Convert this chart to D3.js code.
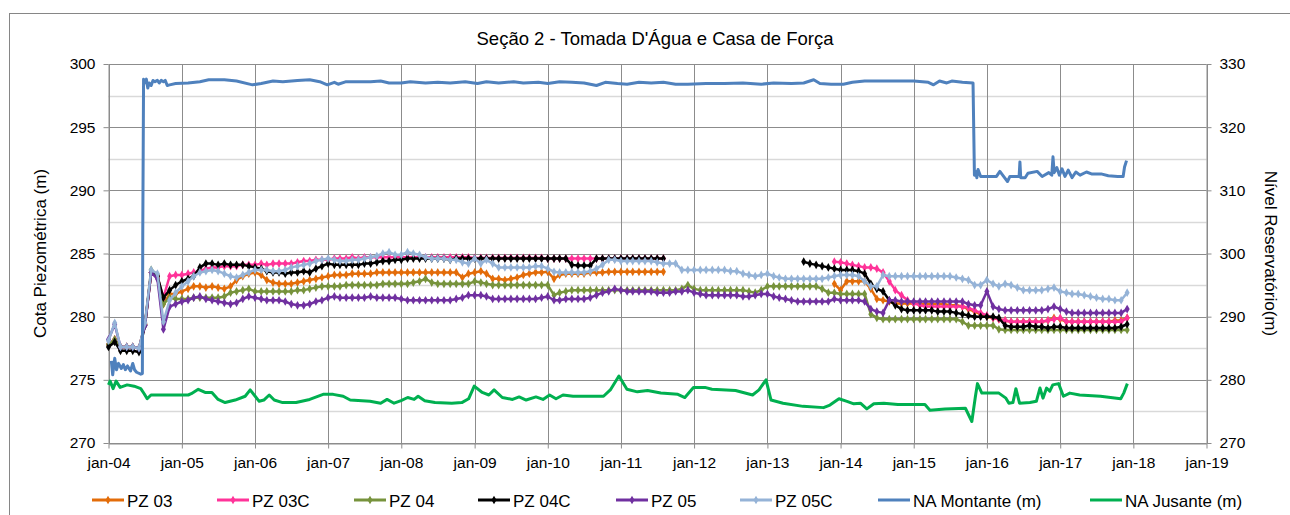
<!DOCTYPE html>
<html>
<head>
<meta charset="utf-8">
<script src="https://cdn.jsdelivr.net/npm/d3@7"></script>
<style>
    body { margin: 0; background: #fff; }
    svg { display: block; font-family: 'Liberation Sans', Arial, sans-serif; }
</style>
</head>
<body>
<svg id="chart" width="1290" height="515"></svg>
<script>
'use strict';

const _ = null;

// monthly readings, Jan 2004 .. Dec 2017 (one row per year)
const firstMonth = new Date(2004, 0, 1);

const pz03 = [
    277.8, 278.2, 277.6, 277.6, 277.6, 277.5, 279.4, 283.5, 283.1, 281.0, 281.8, 281.8,
    282.0, 282.2, 282.4, 282.4, 282.3, 282.4, 282.3, 282.2, 282.4, 282.9, 283.2, 283.4,
    283.5, 283.3, 282.9, 282.7, 282.6, 282.6, 282.6, 282.7, 282.8, 282.9, 283.0, 283.1,
    283.2, 283.3, 283.3, 283.3, 283.4, 283.4, 283.4, 283.4, 283.5, 283.5, 283.5, 283.5,
    283.5, 283.5, 283.5, 283.5, 283.5, 283.5, 283.5, 283.5, 283.5, 283.5, 283.1, 283.4,
    283.5, 283.6, 283.4, 283.0, 283.0, 282.9, 283.0, 283.1, 283.3, 283.4, 283.5, 283.5,
    283.55, 283.0, 283.3, 283.4, 283.4, 283.4, 283.4, 283.5, 283.5, 283.5, 283.55, 283.55,
    283.55, 283.55, 283.55, 283.55, 283.55, 283.55, 283.55, 283.55, _, _, _, _,
    _, _, _, _, _, _, _, _, _, _, _, _,
    _, _, _, _, _, _, _, _, _, _, _, 282.6,
    282.1, 282.8, 282.8, 282.8, 282.8, 282.2, 281.4, 281.3, 281.2, 281.05, 281.05, 281.05,
    281.05, 281.0, 281.0, 281.0, 281.0, 281.0, 280.9, 280.9, 280.8, 280.6, 280.4, 280.2,
    280.0, 279.9, 279.8, 279.7, 279.6, 279.6, 279.6, 279.6, 279.6, 279.6, 279.7, 279.9,
    279.8, 279.6, 279.6, 279.6, 279.6, 279.6, 279.6, 279.6, 279.6, 279.7, 279.7, 279.9
];

const pz03c = [
    277.8, 278.2, 277.6, 277.6, 277.6, 277.5, 279.4, 283.5, 283.2, 281.5, 283.2, 283.3,
    283.3, 283.4, 283.5, 283.6, 283.8, 283.9, 283.9, 284.0, 284.0, 284.0, 284.1, 284.1,
    284.1, 284.2, 284.1, 284.2, 284.2, 284.2, 284.2, 284.3, 284.4, 284.4, 284.5, 284.5,
    284.5, 284.6, 284.6, 284.6, 284.7, 284.6, 284.7, 284.7, 284.7, 284.7, 284.7, 284.7,
    284.7, 284.7, 284.7, 284.7, 284.7, 284.7, 284.7, 284.7, 284.7, 284.7, 284.7, 284.7,
    284.65, 284.65, 284.65, 284.65, 284.65, 284.65, 284.65, 284.65, 284.65, 284.65, 284.65, 284.65,
    284.6, 284.6, 284.6, 284.6, 284.6, 284.6, 284.6, 284.6, 284.6, 284.6, 284.6, 284.6,
    284.6, 284.6, 284.6, 284.6, 284.6, 284.6, 284.6, 284.6, _, _, _, _,
    _, _, _, _, _, _, _, _, _, _, _, _,
    _, _, _, _, _, _, _, _, _, _, _, 284.35,
    284.3, 284.2, 284.1, 284.0, 283.9, 283.9, 283.8, 283.5, 282.8, 282.1, 281.7, 281.3,
    281.05, 280.9, 280.8, 280.8, 280.8, 280.8, 280.8, 280.8, 280.8, 280.7, 280.5, 280.3,
    280.1, 279.9, 279.8, 279.7, 279.6, 279.6, 279.6, 279.6, 279.6, 279.6, 279.7, 279.8,
    279.9, 279.6, 279.6, 279.6, 279.6, 279.6, 279.6, 279.6, 279.6, 279.6, 279.6, 279.9
];

const pz04 = [
    277.8, 278.2, 277.6, 277.6, 277.6, 277.5, 279.4, 283.7, 283.3, 281.0, 281.5, 281.4,
    281.4, 281.4, 281.5, 281.5, 281.5, 281.5, 281.5, 281.6, 281.9, 282.0, 282.1, 282.2,
    282.0, 282.0, 282.0, 282.0, 282.0, 282.0, 282.0, 282.1, 282.1, 282.2, 282.3, 282.4,
    282.4, 282.4, 282.4, 282.5, 282.5, 282.5, 282.5, 282.5, 282.5, 282.6, 282.6, 282.6,
    282.6, 282.6, 282.7, 282.8, 283.0, 282.7, 282.6, 282.6, 282.6, 282.6, 282.6, 282.6,
    282.8, 282.7, 282.6, 282.5, 282.5, 282.5, 282.5, 282.5, 282.5, 282.5, 282.5, 282.5,
    282.5, 281.7, 281.9, 282.0, 282.1, 282.1, 282.1, 282.1, 282.1, 282.1, 282.1, 282.1,
    282.1, 282.1, 282.1, 282.1, 282.1, 282.1, 282.1, 282.1, 282.1, 282.1, 282.2, 282.5,
    282.2, 282.1, 282.1, 282.1, 282.1, 282.1, 282.1, 282.1, 282.1, 282.0, 281.9, 282.1,
    282.4, 282.4, 282.4, 282.4, 282.4, 282.4, 282.4, 282.4, 282.4, 282.2, 281.9, 281.9,
    281.8, 281.8, 281.8, 281.8, 281.8, 280.2, 279.9, 279.8, 279.8, 279.8, 279.8, 279.8,
    279.8, 279.8, 279.8, 279.8, 279.8, 279.8, 279.8, 279.8, 279.6, 279.3, 279.3, 279.3,
    279.3, 279.3, 279.0, 278.95, 278.95, 278.95, 278.95, 278.95, 278.95, 278.95, 278.95, 278.95,
    278.95, 278.95, 278.95, 278.95, 278.95, 278.95, 278.95, 278.95, 278.95, 278.95, 278.95, 278.95
];

const pz04c = [
    277.6, 278.0, 277.3, 277.3, 277.3, 277.2, 279.3, 283.5, 283.2, 281.5, 282.1, 282.5,
    282.8, 283.0, 283.2, 283.9, 284.2, 284.2, 284.1, 284.2, 284.1, 284.1, 284.1, 284.0,
    283.9, 283.8, 283.6, 283.5, 283.5, 283.4, 283.5, 283.5, 283.6, 283.5, 283.8, 284.0,
    284.2, 284.1, 284.1, 284.1, 284.1, 284.1, 284.2, 284.2, 284.3, 284.4, 284.4, 284.5,
    284.5, 284.6, 284.6, 284.6, 284.6, 284.6, 284.6, 284.6, 284.5, 284.6, 284.6, 284.6,
    284.6, 284.6, 284.6, 284.6, 284.6, 284.6, 284.6, 284.6, 284.6, 284.6, 284.6, 284.6,
    284.6, 284.6, 284.6, 284.6, 284.1, 284.05, 284.05, 284.05, 284.6, 284.6, 284.6, 284.6,
    284.6, 284.6, 284.6, 284.6, 284.6, 284.6, 284.6, 284.6, _, _, _, _,
    _, _, _, _, _, _, _, _, _, _, _, _,
    _, _, _, _, _, _, 284.35, 284.2, 284.1, 284.0, 283.9, 283.8,
    283.7, 283.7, 283.7, 283.6, 283.4, 282.6, 282.2, 282.0, 281.3, 280.9, 280.6, 280.5,
    280.5, 280.5, 280.5, 280.5, 280.4, 280.4, 280.4, 280.3, 280.2, 280.1, 280.0, 280.0,
    280.0, 280.0, 279.9, 279.3, 279.2, 279.2, 279.2, 279.3, 279.2, 279.2, 279.1, 279.2,
    279.2, 279.1, 279.1, 279.1, 279.1, 279.1, 279.1, 279.1, 279.1, 279.1, 279.2, 279.4
];

const pz05 = [
    278.2, 279.4, 277.6, 277.6, 277.6, 277.5, 279.3, 283.5, 283.0, 279.0, 280.8, 281.0,
    281.2, 281.3, 281.5, 281.6, 281.4, 281.3, 281.2, 281.1, 281.0, 281.1, 281.4, 281.6,
    281.5, 281.4, 281.3, 281.3, 281.3, 281.2, 281.0, 280.9, 280.9, 281.0, 281.2, 281.3,
    281.5, 281.6, 281.5, 281.5, 281.5, 281.5, 281.5, 281.6, 281.5, 281.5, 281.5, 281.5,
    281.4, 281.3, 281.3, 281.3, 281.3, 281.3, 281.3, 281.3, 281.3, 281.4, 281.5, 281.7,
    281.7, 281.7, 281.6, 281.4, 281.4, 281.4, 281.4, 281.4, 281.4, 281.4, 281.4, 281.5,
    281.6, 281.3, 281.3, 281.4, 281.4, 281.4, 281.4, 281.5, 281.7, 281.9, 282.0, 282.2,
    282.1, 282.0, 282.0, 282.0, 282.0, 282.0, 281.9, 281.9, 281.9, 282.0, 282.0, 282.1,
    281.9, 281.8, 281.7, 281.7, 281.7, 281.7, 281.7, 281.7, 281.6, 281.6, 281.7, 281.8,
    281.8, 281.6, 281.5, 281.4, 281.3, 281.2, 281.2, 281.2, 281.2, 281.2, 281.2, 281.4,
    281.3, 281.3, 281.3, 281.3, 281.2, 280.6, 280.4, 280.3, 281.3, 281.3, 281.2, 281.2,
    281.2, 281.2, 281.2, 281.2, 281.2, 281.2, 281.2, 281.2, 281.2, 281.0, 280.9, 280.9,
    282.0, 280.8, 280.6, 280.5, 280.5, 280.5, 280.5, 280.5, 280.5, 280.5, 280.6, 280.8,
    280.6, 280.4, 280.3, 280.3, 280.3, 280.3, 280.3, 280.3, 280.3, 280.3, 280.3, 280.6
];

const pz05c = [
    278.1, 279.5, 277.6, 277.6, 277.6, 277.5, 279.5, 283.7, 283.4, 279.6, 281.3, 281.9,
    282.4, 282.8, 283.2, 283.5, 283.6, 283.7, 283.6, 283.4, 283.2, 283.1, 283.3, 283.5,
    283.7, 283.7, 283.7, 283.6, 283.6, 283.7, 283.9, 284.0, 284.1, 284.2, 284.4, 284.5,
    284.6, 284.5, 284.4, 284.4, 284.5, 284.5, 284.6, 284.7, 284.8, 285.0, 285.1, 284.9,
    284.9, 285.1, 285.0, 284.9, 284.7, 284.6, 284.6, 284.6, 284.5, 284.5, 284.3, 284.2,
    284.6, 284.2, 284.5, 284.2, 283.9, 283.9, 283.9, 283.9, 283.9, 283.9, 284.0, 284.0,
    283.8, 283.55, 283.5, 283.5, 283.5, 283.5, 283.5, 283.6, 283.8, 284.1, 284.5, 284.5,
    284.4, 284.4, 284.4, 284.4, 284.4, 284.4, 284.3, 284.2, 284.2, 284.2, 283.7, 283.7,
    283.7, 283.7, 283.7, 283.7, 283.7, 283.7, 283.6, 283.6, 283.4, 283.3, 283.2, 283.3,
    283.4, 283.2, 283.1, 283.0, 283.0, 283.0, 283.0, 283.0, 283.0, 283.0, 283.1, 283.2,
    283.3, 283.3, 283.3, 283.2, 282.8, 282.4, 282.4, 283.3, 283.2, 283.2, 283.2, 283.2,
    283.2, 283.2, 283.2, 283.2, 283.2, 283.2, 283.2, 283.1, 283.0, 282.9, 282.5, 282.5,
    282.9, 282.6, 282.4, 282.6, 282.5, 282.3, 282.1, 282.1, 282.1, 282.1, 282.2, 282.3,
    282.0, 281.9, 281.8, 281.8, 281.7, 281.6, 281.5, 281.4, 281.4, 281.3, 281.3, 281.9
];

// reservoir levels, read against the right axis
const naMontante = [
    ['2004-01-15', 283.0], ['2004-01-22', 280.8], ['2004-02-01', 283.4], ['2004-02-10', 281.6],
    ['2004-02-20', 282.6], ['2004-03-05', 281.8], ['2004-03-15', 282.4], ['2004-03-25', 281.6],
    ['2004-04-05', 282.2], ['2004-04-20', 281.4], ['2004-05-01', 282.6], ['2004-05-10', 281.6],
    ['2004-05-20', 281.2], ['2004-06-10', 280.9], ['2004-06-18', 281.0], ['2004-06-20', 303.0],
    ['2004-06-24', 327.6], ['2004-07-01', 327.0], ['2004-07-08', 327.6], ['2004-07-15', 326.2],
    ['2004-07-22', 327.0], ['2004-08-01', 326.6], ['2004-08-10', 327.4], ['2004-08-20', 327.2],
    ['2004-09-01', 327.4], ['2004-09-10', 327.0], ['2004-09-20', 327.4], ['2004-10-01', 327.2],
    ['2004-10-10', 327.4], ['2004-10-20', 326.6], ['2004-11-01', 326.7], ['2004-12-01', 326.9],
    ['2005-02-01', 327.0], ['2005-04-01', 327.2], ['2005-05-15', 327.5], ['2005-08-01', 327.5],
    ['2005-10-01', 327.3], ['2005-12-20', 326.7], ['2006-02-01', 326.9], ['2006-04-01', 327.3],
    ['2006-05-20', 327.2], ['2006-08-01', 327.4], ['2006-10-01', 327.5], ['2006-11-20', 327.2],
    ['2006-12-28', 326.7], ['2007-02-01', 327.1], ['2007-02-20', 326.8], ['2007-04-01', 327.2],
    ['2007-08-01', 327.2], ['2007-09-20', 327.3], ['2007-11-01', 327.0], ['2008-01-01', 327.0],
    ['2008-02-15', 327.2], ['2008-05-01', 327.0], ['2008-07-01', 327.1], ['2008-09-01', 327.0],
    ['2008-11-15', 327.2], ['2009-01-15', 326.9], ['2009-03-01', 327.2], ['2009-05-01', 327.0],
    ['2009-07-15', 327.2], ['2009-09-01', 327.0], ['2009-11-15', 327.1], ['2010-01-01', 326.9],
    ['2010-03-01', 327.2], ['2010-05-01', 327.1], ['2010-07-01', 327.0], ['2010-09-01', 326.6],
    ['2010-10-15', 327.1], ['2010-12-15', 326.9], ['2011-02-01', 326.8], ['2011-04-01', 327.1],
    ['2011-06-01', 327.0], ['2011-08-01', 327.1], ['2011-10-01', 326.8], ['2011-12-01', 326.8],
    ['2012-03-01', 326.9], ['2012-06-01', 326.9], ['2012-09-01', 327.0], ['2012-12-01', 326.8],
    ['2013-02-01', 327.0], ['2013-05-01', 326.9], ['2013-07-01', 327.0], ['2013-08-20', 327.5],
    ['2013-09-20', 326.9], ['2013-11-15', 326.8], ['2014-01-15', 326.8], ['2014-03-01', 327.1],
    ['2014-05-01', 327.3], ['2014-09-01', 327.3], ['2015-01-01', 327.3], ['2015-03-15', 327.1],
    ['2015-04-10', 326.7], ['2015-05-10', 327.3], ['2015-06-15', 327.0], ['2015-07-10', 327.3],
    ['2015-09-01', 327.1], ['2015-10-24', 327.0], ['2015-10-31', 312.4], ['2015-11-06', 313.0],
    ['2015-11-12', 312.0], ['2015-11-18', 313.3], ['2015-12-01', 312.2], ['2016-01-15', 312.2],
    ['2016-02-18', 312.2], ['2016-03-06', 313.0], ['2016-04-01', 311.9], ['2016-04-13', 311.4],
    ['2016-04-25', 312.2], ['2016-06-10', 312.2], ['2016-06-14', 314.5], ['2016-06-18', 312.0],
    ['2016-07-10', 312.0], ['2016-07-24', 312.7], ['2016-09-08', 313.0], ['2016-10-03', 312.2],
    ['2016-11-05', 312.8], ['2016-11-20', 312.4], ['2016-11-26', 315.3], ['2016-12-02', 312.8],
    ['2016-12-15', 313.6], ['2016-12-28', 312.4], ['2017-01-10', 313.4], ['2017-01-25', 312.2],
    ['2017-02-10', 313.2], ['2017-03-01', 312.0], ['2017-03-20', 312.9], ['2017-04-10', 312.4],
    ['2017-05-12', 312.9], ['2017-06-06', 312.6], ['2017-07-24', 312.6], ['2017-08-29', 312.3],
    ['2017-10-15', 312.2], ['2017-11-11', 312.2], ['2017-11-18', 313.7], ['2017-11-28', 314.7]
];

const naJusante = [
    ['2004-01-01', 279.2], ['2004-01-09', 279.8], ['2004-01-24', 278.6], ['2004-02-08', 279.8],
    ['2004-02-28', 278.8], ['2004-04-03', 279.2], ['2004-05-08', 279.0], ['2004-06-10', 278.6],
    ['2004-06-27', 277.8], ['2004-07-12', 277.0], ['2004-07-31', 277.6], ['2004-08-16', 277.6],
    ['2005-02-02', 277.6], ['2005-02-17', 277.8], ['2005-03-24', 278.5], ['2005-04-27', 278.0],
    ['2005-05-31', 278.0], ['2005-07-01', 276.9], ['2005-08-05', 276.4], ['2005-09-24', 276.8],
    ['2005-11-13', 277.4], ['2005-12-08', 278.4], ['2005-12-28', 277.6], ['2006-01-22', 276.6],
    ['2006-02-14', 276.8], ['2006-03-13', 277.6], ['2006-04-07', 276.8], ['2006-05-19', 276.4],
    ['2006-07-25', 276.4], ['2006-10-01', 276.9], ['2006-12-07', 277.7], ['2007-01-26', 277.7],
    ['2007-03-17', 277.4], ['2007-04-21', 276.8], ['2007-07-29', 276.6], ['2007-09-20', 276.3],
    ['2007-10-22', 276.9], ['2007-11-26', 276.3], ['2007-12-31', 276.7], ['2008-02-02', 277.2],
    ['2008-03-05', 276.9], ['2008-03-25', 277.4], ['2008-04-27', 276.7], ['2008-06-17', 276.4],
    ['2008-09-09', 276.3], ['2008-10-29', 276.4], ['2008-12-02', 277.0], ['2008-12-30', 279.0],
    ['2009-02-08', 278.0], ['2009-03-13', 277.6], ['2009-04-08', 278.4], ['2009-05-19', 277.2],
    ['2009-07-09', 276.9], ['2009-08-11', 277.3], ['2009-09-15', 276.8], ['2009-11-03', 277.3],
    ['2009-12-08', 276.9], ['2010-01-10', 277.6], ['2010-02-11', 277.0], ['2010-03-18', 277.6],
    ['2010-05-07', 277.4], ['2010-07-16', 277.4], ['2010-10-06', 277.4], ['2010-11-09', 278.4],
    ['2010-12-22', 280.6], ['2011-01-31', 278.5], ['2011-03-24', 278.1], ['2011-05-14', 278.3],
    ['2011-07-19', 277.9], ['2011-10-12', 277.7], ['2011-11-16', 277.2], ['2011-12-29', 278.8],
    ['2012-02-24', 278.8], ['2012-03-30', 278.5], ['2012-07-26', 278.3], ['2012-10-19', 277.6],
    ['2012-11-20', 278.4], ['2012-12-25', 280.0], ['2013-01-19', 276.8], ['2013-03-20', 276.3],
    ['2013-06-28', 275.8], ['2013-10-08', 275.6], ['2013-11-09', 276.0], ['2013-12-24', 277.0],
    ['2014-02-02', 276.6], ['2014-03-08', 276.2], ['2014-04-10', 276.3], ['2014-05-12', 275.4],
    ['2014-06-16', 276.2], ['2014-08-05', 276.3], ['2014-10-14', 276.1], ['2015-02-26', 276.1],
    ['2015-03-23', 275.2], ['2015-06-06', 275.4], ['2015-09-16', 275.5], ['2015-10-18', 273.4],
    ['2015-11-05', 277.4], ['2015-11-15', 279.4], ['2015-12-07', 277.9], ['2016-03-01', 277.9],
    ['2016-04-05', 277.1], ['2016-04-20', 276.3], ['2016-05-10', 276.4], ['2016-05-25', 278.6],
    ['2016-06-12', 276.3], ['2016-08-03', 276.4], ['2016-09-04', 276.6], ['2016-09-22', 278.7],
    ['2016-10-07', 277.1], ['2016-10-25', 278.7], ['2016-11-10', 278.2], ['2016-11-25', 279.2],
    ['2016-12-24', 279.4], ['2017-01-17', 277.4], ['2017-02-18', 277.9], ['2017-04-08', 277.6],
    ['2017-07-21', 277.4], ['2017-10-30', 277.0], ['2017-11-14', 277.9], ['2017-12-02', 279.4]
];

const seriesNames = ['PZ 03', 'PZ 03C', 'PZ 04', 'PZ 04C', 'PZ 05', 'PZ 05C',
    'NA Montante (m)', 'NA Jusante (m)'];
const seriesColors = ['#e36c09', '#ff3399', '#77933c', '#000000', '#7030a0', '#95b3d7',
    '#4f81bd', '#00b050'];
const leftTicks = [270, 275, 280, 285, 290, 295, 300];
const rightTicks = [270, 280, 290, 300, 310, 320, 330];
const yearTicks = d3.range(2004, 2020);

const titleText = 'Seção 2 - Tomada D\'Água e Casa de Força';
const leftTitle = 'Cota Piezométrica (m)';
const rightTitle = 'Nível Reservatório(m)';

const svg = d3.select('#chart');
const plot = {left: 108.5, right: 1206.5, top: 64, bottom: 443};

let x = d3.scaleTime()
    .domain([new Date(2004, 0, 1), new Date(2019, 0, 1)])
    .range([plot.left, plot.right]);
let yL = d3.scaleLinear().domain([270, 300]).range([plot.bottom, plot.top]);
let yR = d3.scaleLinear().domain([270, 330]).range([plot.bottom, plot.top]);

let parse = d3.timeParse('%Y-%m-%d');
let monthly = function(values) {
    return values.map(function(v, i) {
        return {date: d3.timeMonth.offset(firstMonth, i), v: v};
    });
};
let dated = function(rows) {
    return rows.map(function(r) {
        return {date: parse(r[0]), v: r[1]};
    });
};

// chart frame
svg.append('rect')
    .attr('x', 9.5).attr('y', 13.5)
    .attr('width', 1400).attr('height', 600)
    .attr('fill', 'none')
    .attr('stroke', '#868686');

// minor gridlines
let grid = svg.append('g');
grid.selectAll('.minor')
    .data([272.5, 277.5, 282.5, 287.5, 292.5, 297.5])
    .enter().append('line')
    .attr('x1', plot.left).attr('x2', plot.right)
    .attr('y1', function(d) { return Math.round(yL(d)) + 0.5; })
    .attr('y2', function(d) { return Math.round(yL(d)) + 0.5; })
    .attr('stroke', '#d9d9d9')
    .attr('stroke-width', 1.5);

grid.selectAll('.major')
    .data(leftTicks)
    .enter().append('line')
    .attr('x1', plot.left).attr('x2', plot.right)
    .attr('y1', function(d) { return Math.round(yL(d)) + 0.5; })
    .attr('y2', function(d) { return Math.round(yL(d)) + 0.5; })
    .attr('stroke', '#8c8c8c');

grid.selectAll('.vert')
    .data(yearTicks)
    .enter().append('line')
    .attr('x1', function(d) { return Math.round(x(new Date(d, 0, 1))) + 0.5; })
    .attr('x2', function(d) { return Math.round(x(new Date(d, 0, 1))) + 0.5; })
    .attr('y1', plot.top).attr('y2', plot.bottom)
    .attr('stroke', '#8c8c8c');

// axes
let axisStyle = function(g) {
    g.select('.domain').attr('stroke', '#8c8c8c');
    g.selectAll('.tick line').attr('stroke', '#8c8c8c');
    g.selectAll('.tick text')
        .attr('fill', '#000')
        .style('font-size', '15.5px')
        .style('font-family', '\'Liberation Sans\', Arial, sans-serif');
};

svg.append('g')
    .attr('transform', 'translate(0,' + (plot.bottom + 0.5) + ')')
    .call(d3.axisBottom(x)
        .tickValues(yearTicks.map(function(d) { return new Date(d, 0, 1); }))
        .tickFormat(d3.timeFormat('jan-%y'))
        .tickSize(5).tickSizeOuter(0).tickPadding(8))
    .call(axisStyle);

svg.append('g')
    .attr('transform', 'translate(' + plot.left + ',0)')
    .call(d3.axisLeft(yL).tickValues(leftTicks)
        .tickSize(5).tickSizeOuter(0).tickPadding(8))
    .call(axisStyle);

svg.append('g')
    .attr('transform', 'translate(' + plot.right + ',0)')
    .call(d3.axisRight(yR).tickValues(rightTicks)
        .tickSize(5).tickSizeOuter(0).tickPadding(8))
    .call(axisStyle);

// series
let pzData = [pz03, pz03c, pz04, pz04c, pz05, pz05c].map(monthly);
let naData = [naMontante, naJusante].map(dated);
let diamond = d3.symbol().type(d3.symbolDiamond).size(22);

let lineL = d3.line()
    .defined(function(d) { return d.v !== null; })
    .x(function(d) { return x(d.date); })
    .y(function(d) { return yL(d.v); });
let lineR = d3.line()
    .x(function(d) { return x(d.date); })
    .y(function(d) { return yR(d.v); });

let series = svg.append('g');
pzData.forEach(function(data, i) {
    let g = series.append('g');
    g.append('path')
        .datum(data)
        .attr('fill', 'none')
        .attr('stroke', seriesColors[i])
        .attr('stroke-width', 2.5)
        .attr('stroke-linejoin', 'round')
        .attr('d', lineL);
    g.selectAll('path.mk')
        .data(data.filter(function(d) { return d.v !== null; }))
        .enter().append('path')
        .attr('class', 'mk')
        .attr('d', diamond)
        .attr('fill', seriesColors[i])
        .attr('transform', function(d) {
            return 'translate(' + x(d.date) + ',' + yL(d.v) + ')';
        });
});

naData.forEach(function(data, i) {
    series.append('path')
        .datum(data)
        .attr('fill', 'none')
        .attr('stroke', seriesColors[6 + i])
        .attr('stroke-width', 3)
        .attr('stroke-linejoin', 'round')
        .attr('d', lineR);
});

// titles
svg.append('text')
    .attr('x', 655).attr('y', 45)
    .attr('text-anchor', 'middle')
    .style('font-size', '18.5px')
    .text(titleText);

svg.append('text')
    .attr('transform', 'translate(46,' + (plot.top + plot.bottom) / 2 + ') rotate(-90)')
    .attr('text-anchor', 'middle')
    .style('font-size', '17px')
    .text(leftTitle);

svg.append('text')
    .attr('transform', 'translate(1265,' + (plot.top + plot.bottom) / 2 + ') rotate(90)')
    .attr('text-anchor', 'middle')
    .style('font-size', '17px')
    .text(rightTitle);

// legend
let legendX = [92, 217, 354, 478, 616, 740, 878, 1090];
let legend = svg.append('g')
    .selectAll('g')
    .data(seriesNames)
    .enter().append('g')
    .attr('transform', function(d, i) {
        return 'translate(' + legendX[i] + ',500)';
    });

legend.append('line')
    .attr('x1', 0).attr('x2', 32)
    .attr('stroke', function(d, i) { return seriesColors[i]; })
    .attr('stroke-width', 3);

legend.filter(function(d, i) { return i < 6; })
    .append('path')
    .attr('d', diamond)
    .attr('transform', 'translate(16,0)')
    .attr('fill', function(d, i) { return seriesColors[i]; });

legend.append('text')
    .attr('x', 35).attr('y', 7)
    .style('font-size', '17px')
    .text(function(d) { return d; });
</script>
</body>
</html>
